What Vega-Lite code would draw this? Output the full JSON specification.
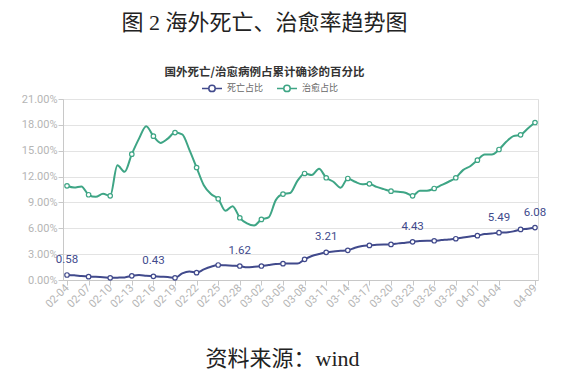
{
  "$schema": "https://vega.github.io/schema/vega-lite/v6.json",
  "width": 475,
  "height": 181,
  "autosize": "none",
  "padding": {"left": 63, "top": 99, "right": 25, "bottom": 98},
  "background": "white",
  "title": {
    "text": "图 2 海外死亡、治愈率趋势图",
    "subtitle": "国外死亡/治愈病例占累计确诊的百分比",
    "anchor": "middle",
    "frame": "group",
    "dx": -36,
    "offset": -2,
    "font": "Liberation Serif, Noto Sans CJK SC",
    "fontSize": 22,
    "fontWeight": "normal",
    "color": "#222222",
    "subtitleFont": "Noto Sans CJK SC",
    "subtitleFontSize": 11.5,
    "subtitleFontWeight": "bold",
    "subtitleColor": "#333333",
    "subtitlePadding": 32
  },
  "data": {
    "format": {"parse": {"date": "utc:'%Y-%m-%d'"}},
    "values": [
      {"date": "2020-02-04", "死亡占比": 0.58, "治愈占比": 10.93},
      {"date": "2020-02-05", "死亡占比": 0.54, "治愈占比": 10.72},
      {"date": "2020-02-06", "死亡占比": 0.45, "治愈占比": 10.85},
      {"date": "2020-02-07", "死亡占比": 0.39, "治愈占比": 9.89},
      {"date": "2020-02-08", "死亡占比": 0.37, "治愈占比": 9.65},
      {"date": "2020-02-09", "死亡占比": 0.33, "治愈占比": 10.0},
      {"date": "2020-02-10", "死亡占比": 0.25, "治愈占比": 9.77},
      {"date": "2020-02-11", "死亡占比": 0.27, "治愈占比": 13.3},
      {"date": "2020-02-12", "死亡占比": 0.30, "治愈占比": 12.55},
      {"date": "2020-02-13", "死亡占比": 0.48, "治愈占比": 14.6},
      {"date": "2020-02-14", "死亡占比": 0.58, "治愈占比": 16.4},
      {"date": "2020-02-15", "死亡占比": 0.50, "治愈占比": 17.85},
      {"date": "2020-02-16", "死亡占比": 0.43, "治愈占比": 16.69},
      {"date": "2020-02-17", "死亡占比": 0.38, "治愈占比": 15.9},
      {"date": "2020-02-18", "死亡占比": 0.35, "治愈占比": 16.4},
      {"date": "2020-02-19", "死亡占比": 0.25, "治愈占比": 17.1},
      {"date": "2020-02-20", "死亡占比": 0.77, "治愈占比": 16.9},
      {"date": "2020-02-21", "死亡占比": 1.00, "治愈占比": 15.1},
      {"date": "2020-02-22", "死亡占比": 0.85, "治愈占比": 13.05},
      {"date": "2020-02-23", "死亡占比": 1.23, "治愈占比": 11.0},
      {"date": "2020-02-24", "死亡占比": 1.54, "治愈占比": 9.97},
      {"date": "2020-02-25", "死亡占比": 1.74, "治愈占比": 9.42},
      {"date": "2020-02-26", "死亡占比": 1.70, "治愈占比": 8.03},
      {"date": "2020-02-27", "死亡占比": 1.66, "治愈占比": 8.57},
      {"date": "2020-02-28", "死亡占比": 1.62, "治愈占比": 7.22},
      {"date": "2020-02-29", "死亡占比": 1.47, "治愈占比": 6.57},
      {"date": "2020-03-01", "死亡占比": 1.53, "治愈占比": 6.33},
      {"date": "2020-03-02", "死亡占比": 1.62, "治愈占比": 7.03},
      {"date": "2020-03-03", "死亡占比": 1.74, "治愈占比": 7.26},
      {"date": "2020-03-04", "死亡占比": 1.85, "治愈占比": 9.27},
      {"date": "2020-03-05", "死亡占比": 1.89, "治愈占比": 9.97},
      {"date": "2020-03-06", "死亡占比": 1.92, "治愈占比": 10.1},
      {"date": "2020-03-07", "死亡占比": 1.90, "治愈占比": 11.5},
      {"date": "2020-03-08", "死亡占比": 2.40, "治愈占比": 12.36},
      {"date": "2020-03-09", "死亡占比": 2.78, "治愈占比": 12.17},
      {"date": "2020-03-10", "死亡占比": 3.01, "治愈占比": 12.9},
      {"date": "2020-03-11", "死亡占比": 3.21, "治愈占比": 11.86},
      {"date": "2020-03-12", "死亡占比": 3.32, "治愈占比": 11.4},
      {"date": "2020-03-13", "死亡占比": 3.38, "治愈占比": 10.7},
      {"date": "2020-03-14", "死亡占比": 3.44, "治愈占比": 11.78},
      {"date": "2020-03-15", "死亡占比": 3.75, "治愈占比": 11.4},
      {"date": "2020-03-16", "死亡占比": 3.94, "治愈占比": 11.12},
      {"date": "2020-03-17", "死亡占比": 4.01, "治愈占比": 11.16},
      {"date": "2020-03-18", "死亡占比": 4.08, "治愈占比": 10.8},
      {"date": "2020-03-19", "死亡占比": 4.12, "治愈占比": 10.54},
      {"date": "2020-03-20", "死亡占比": 4.13, "治愈占比": 10.31},
      {"date": "2020-03-21", "死亡占比": 4.25, "治愈占比": 10.23},
      {"date": "2020-03-22", "死亡占比": 4.33, "治愈占比": 10.12},
      {"date": "2020-03-23", "死亡占比": 4.43, "治愈占比": 9.77},
      {"date": "2020-03-24", "死亡占比": 4.52, "治愈占比": 10.35},
      {"date": "2020-03-25", "死亡占比": 4.55, "治愈占比": 10.35},
      {"date": "2020-03-26", "死亡占比": 4.55, "治愈占比": 10.62},
      {"date": "2020-03-27", "死亡占比": 4.63, "治愈占比": 11.0},
      {"date": "2020-03-28", "死亡占比": 4.70, "治愈占比": 11.4},
      {"date": "2020-03-29", "死亡占比": 4.79, "治愈占比": 11.86},
      {"date": "2020-03-30", "死亡占比": 4.94, "治愈占比": 12.75},
      {"date": "2020-03-31", "死亡占比": 5.06, "治愈占比": 13.2},
      {"date": "2020-04-01", "死亡占比": 5.14, "治愈占比": 13.9},
      {"date": "2020-04-02", "死亡占比": 5.33, "治愈占比": 14.56},
      {"date": "2020-04-03", "死亡占比": 5.40, "治愈占比": 14.56},
      {"date": "2020-04-04", "死亡占比": 5.49, "治愈占比": 15.14},
      {"date": "2020-04-05", "死亡占比": 5.52, "治愈占比": 16.03},
      {"date": "2020-04-06", "死亡占比": 5.64, "治愈占比": 16.69},
      {"date": "2020-04-07", "死亡占比": 5.87, "治愈占比": 16.84},
      {"date": "2020-04-08", "死亡占比": 5.95, "治愈占比": 17.58},
      {"date": "2020-04-09", "死亡占比": 6.08, "治愈占比": 18.27}
    ]
  },
  "transform": [
    {"fold": ["死亡占比", "治愈占比"], "as": ["series", "value"]}
  ],
  "encoding": {
    "x": {
      "field": "date",
      "type": "temporal",
      "scale": {
        "type": "utc",
        "domain": [
          {"year": 2020, "month": 2, "date": 3, "hours": 10, "minutes": 40, "utc": true},
          {"year": 2020, "month": 4, "date": 9, "hours": 10, "utc": true}
        ],
        "nice": false
      },
      "axis": {
        "title": "资料来源：wind",
        "titleFont": "Liberation Serif, Noto Sans CJK SC",
        "titleFontSize": 22,
        "titleFontWeight": "normal",
        "titleColor": "#222222",
        "titleX": 219,
        "titleY": 85,
        "titleAnchor": "middle",
        "titleAlign": "center",
        "titleBaseline": "alphabetic",
        "values": [
          {"year": 2020, "month": 2, "date": 4, "utc": true},
          {"year": 2020, "month": 2, "date": 7, "utc": true},
          {"year": 2020, "month": 2, "date": 10, "utc": true},
          {"year": 2020, "month": 2, "date": 13, "utc": true},
          {"year": 2020, "month": 2, "date": 16, "utc": true},
          {"year": 2020, "month": 2, "date": 19, "utc": true},
          {"year": 2020, "month": 2, "date": 22, "utc": true},
          {"year": 2020, "month": 2, "date": 25, "utc": true},
          {"year": 2020, "month": 2, "date": 28, "utc": true},
          {"year": 2020, "month": 3, "date": 2, "utc": true},
          {"year": 2020, "month": 3, "date": 5, "utc": true},
          {"year": 2020, "month": 3, "date": 8, "utc": true},
          {"year": 2020, "month": 3, "date": 11, "utc": true},
          {"year": 2020, "month": 3, "date": 14, "utc": true},
          {"year": 2020, "month": 3, "date": 17, "utc": true},
          {"year": 2020, "month": 3, "date": 20, "utc": true},
          {"year": 2020, "month": 3, "date": 23, "utc": true},
          {"year": 2020, "month": 3, "date": 26, "utc": true},
          {"year": 2020, "month": 3, "date": 29, "utc": true},
          {"year": 2020, "month": 4, "date": 1, "utc": true},
          {"year": 2020, "month": 4, "date": 4, "utc": true},
          {"year": 2020, "month": 4, "date": 9, "utc": true}
        ],
        "labelExpr": "utcFormat(datum.value, '%m-%d')",
        "labelAngle": -45,
        "labelAlign": "right",
        "labelBaseline": "middle",
        "labelFont": "Roboto",
        "labelFontSize": 11,
        "labelColor": "#b5b5b5",
        "labelPadding": 1,
        "labelOverlap": false,
        "labelFlush": false,
        "grid": false,
        "domainColor": "#c8c8c8",
        "tickColor": "#c8c8c8",
        "tickSize": 5
      }
    },
    "y": {
      "field": "value",
      "type": "quantitative",
      "scale": {"domain": [0, 21], "nice": false, "zero": true},
      "axis": {
        "title": null,
        "values": [0, 3, 6, 9, 12, 15, 18, 21],
        "labelExpr": "format(datum.value, '.2f') + '%'",
        "labelFont": "Roboto",
        "labelFontSize": 11,
        "labelColor": "#b5b5b5",
        "labelPadding": 1,
        "grid": true,
        "gridColor": "#e3e3e3",
        "domainColor": "#c8c8c8",
        "tickColor": "#c8c8c8",
        "tickSize": 5
      }
    }
  },
  "layer": [
    {
      "mark": {"type": "line", "interpolate": "monotone", "strokeWidth": 2},
      "encoding": {
        "color": {
          "field": "series",
          "type": "nominal",
          "scale": {"domain": ["死亡占比", "治愈占比"], "range": ["#414a8c", "#3ea585"]},
          "legend": {
            "title": null,
            "orient": "none",
            "direction": "horizontal",
            "legendX": 138,
            "legendY": -22,
            "symbolType": "M-1,0L-0.32,0M0.32,0L1,0M0.32,0A0.32,0.32 0 1,1 -0.32,0A0.32,0.32 0 1,1 0.32,0",
            "symbolSize": 400,
            "symbolStrokeWidth": 1.5,
            "symbolFillColor": "white",
            "labelFont": "Noto Sans CJK SC",
            "labelFontSize": 9,
            "labelColor": "#666666",
            "labelOffset": 4,
            "columnPadding": 10
          }
        }
      }
    },
    {
      "transform": [
        {"filter": "((time(datum.date) - utc(2020,1,4)) / 86400000) % 3 == 0 || time(datum.date) == utc(2020,3,9)"}
      ],
      "mark": {"type": "point", "shape": "circle", "filled": true, "fill": "white", "size": 20, "strokeWidth": 1.2, "opacity": 1},
      "encoding": {
        "stroke": {"field": "series", "type": "nominal", "scale": {"domain": ["死亡占比", "治愈占比"], "range": ["#414a8c", "#3ea585"]}, "legend": null}
      }
    },
    {
      "transform": [
        {"filter": "datum.series == '死亡占比' && ((((time(datum.date) - utc(2020,1,4)) / 86400000) % 12 == 0) || time(datum.date) == utc(2020,3,9))"}
      ],
      "mark": {"type": "text", "dy": -10, "font": "Roboto", "fontSize": 11.5, "color": "#414a8c", "baseline": "bottom"},
      "encoding": {
        "text": {"field": "value", "type": "quantitative", "format": ".2f"}
      }
    }
  ]
}
